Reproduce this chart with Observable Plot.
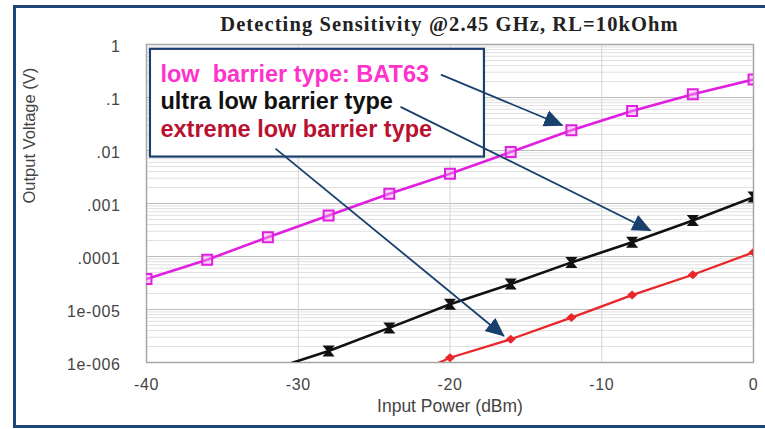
<!DOCTYPE html>
<html><head><meta charset="utf-8">
<script src="https://cdn.jsdelivr.net/npm/d3@7"></script>
<script src="https://cdn.jsdelivr.net/npm/@observablehq/plot@0.6"></script>
<style>
html,body{margin:0;padding:0;background:#fff;overflow:hidden;}
#wrap{position:relative;width:765px;height:429px;overflow:hidden;font-family:"Liberation Sans",Arial,sans-serif;}
#border{position:absolute;left:13px;top:5px;width:800px;height:417px;border:3px solid #1d4577;box-sizing:content-box;}
#chart{position:absolute;left:0;top:0;}
#title{position:absolute;left:146px;width:607px;top:13px;line-height:22px;text-align:center;font-weight:bold;font-size:20.5px;letter-spacing:1.1px;font-family:"Liberation Serif","Times New Roman",serif;color:#222;}
svg g[aria-label="y-axis tick label"] text, svg g[aria-label="x-axis tick label"] text {letter-spacing:0.6px;}
svg g[aria-label="axis-title"] text {letter-spacing:0.8px;}
</style></head>
<body><div id="wrap"><div id="border"></div><div id="chart"></div><div id="title">Detecting Sensitivity @2.45 GHz, RL=10kOhm</div></div>
<script>
// ---- data ----
const powerBAT63 = [-40, -36, -32, -28, -24, -20, -16, -12, -8, -4, 0];
const voltBAT63 = [3.76e-5, 8.7e-5, 2.30e-4, 5.93e-4, 1.53e-3, 3.65e-3, 9.35e-3, 0.0241, 0.0558, 0.1156, 0.219];
const powerUltra = [-32, -28, -24, -20, -16, -12, -8, -4, 0];
const voltUltra = [7e-7, 1.65e-6, 4.5e-6, 1.26e-5, 3.02e-5, 7.74e-5, 1.85e-4, 4.76e-4, 1.32e-3];
const powerExtreme = [-24, -20, -16, -12, -8, -4, 0];
const voltExtreme = [3.7e-7, 1.23e-6, 2.75e-6, 7.05e-6, 1.87e-5, 4.53e-5, 1.20e-4];
const seriesNames = ["low  barrier type: BAT63", "ultra low barrier type", "extreme low barrier type"];
const yTicks = [1, 0.1, 0.01, 0.001, 0.0001, 1e-5, 1e-6];
const yTickLabels = ["1", ".1", ".01", ".001", ".0001", "1e-005", "1e-006"];
const xTicks = [-40, -30, -20, -10, 0];
const xGrid = [-30, -20, -10];
const xTitle = "Input Power (dBm)";
const yTitle = "Output Voltage (V)";
// annotation (data coordinates)
const legendBox = [{x1: -39.74, x2: -17.73, y1: 0.811, y2: 0.00752}];
const legendTextX = [-39.08, -39.08, -39.08];
const legendTextY = [0.1977, 0.0601, 0.01798];
const arrowStartX = [-20.6, -23.26, -31.5];
const arrowStartY = [0.27, 0.0665, 0.01084];
const arrowEndX = [-12.6, -6.79, -16.45];
const arrowEndY = [0.0299, 3.09e-4, 3.17e-6];

const colors = {bat: "#e01fe0", ultra: "#111111", extreme: "#e8262b"};
const textColors = ["#ff33cc", "#111111", "#b81230"];

// minor log grid positions
const minorGrid = [];
for (let k = -6; k < 0; k++) for (let m = 2; m <= 9; m++) minorGrid.push(m * Math.pow(10, k));

const rows = (s, xs, ys) => xs.map((x, i) => ({series: s, power: x, volt: ys[i]}));
const dBAT = rows(seriesNames[0], powerBAT63, voltBAT63);
const dUltra = rows(seriesNames[1], powerUltra, voltUltra);
const dExt = rows(seriesNames[2], powerExtreme, voltExtreme);
const legendRows = seriesNames.map((t, i) => ({text: t, x: legendTextX[i], y: legendTextY[i]}));
const arrowRows = arrowStartX.map((x, i) => ({x1: x, y1: arrowStartY[i], x2: arrowEndX[i], y2: arrowEndY[i]}));

const hourglass = {draw(ctx, size) {
  const r = Math.sqrt(size / Math.PI);
  const w = r * 1.1, h = r, n = r * 0.3;
  ctx.moveTo(-w, -h); ctx.lineTo(w, -h); ctx.lineTo(n, 0); ctx.lineTo(w, h);
  ctx.lineTo(-w, h); ctx.lineTo(-n, 0); ctx.closePath();
}};
const diamond = {draw(ctx, size) {
  const r = Math.sqrt(size / Math.PI);
  ctx.moveTo(0, -r * 0.9); ctx.lineTo(r, 0); ctx.lineTo(0, r * 0.9); ctx.lineTo(-r, 0); ctx.closePath();
}};
function triangleMarker(color, context) {
  const doc = (context && context.document) || document;
  const m = doc.createElementNS("http://www.w3.org/2000/svg", "marker");
  m.setAttribute("viewBox", "-18 -9 20 18");
  m.setAttribute("markerWidth", "20");
  m.setAttribute("markerHeight", "18");
  m.setAttribute("markerUnits", "userSpaceOnUse");
  m.setAttribute("orient", "auto");
  const p = doc.createElementNS("http://www.w3.org/2000/svg", "path");
  p.setAttribute("d", "M-18,-8.5L1,0L-18,8.5Z");
  p.setAttribute("fill", color);
  p.setAttribute("stroke", "none");
  m.appendChild(p);
  return m;
}

const font = "'Liberation Sans', Arial, sans-serif";
const chart = Plot.plot({
  width: 765, height: 429,
  marginLeft: 146, marginRight: 12, marginTop: 44, marginBottom: 67,
  style: {background: "transparent", fontFamily: font},
  x: {domain: [-40, 0]},
  y: {type: "log", domain: [1e-6, 1]},
  marks: [
    Plot.ruleY(minorGrid, {stroke: "#e0e0e0", strokeWidth: 1}),
    Plot.ruleY(yTicks, {stroke: "#bdbdbd", strokeWidth: 1.2}),
    Plot.ruleX(xGrid, {stroke: "#d4d4d4", strokeWidth: 1}),
    Plot.frame({stroke: "#a6a6a6", strokeWidth: 1.5}),
    Plot.axisY({ticks: yTicks, tickFormat: (d) => yTickLabels[yTicks.indexOf(d)], tickSize: 0, tickPadding: 26, dy: 2,
      fontSize: 16, color: "#444", label: null}),
    Plot.axisX({ticks: xTicks, tickFormat: (d) => String(d), tickSize: 0, tickPadding: 16,
      fontSize: 16, color: "#444", label: null}),
    Plot.text([xTitle], {frameAnchor: "bottom", dy: 49, fontSize: 17.5, fill: "#444", ariaLabel: "axis-title"}),
    Plot.text([yTitle], {frameAnchor: "left", dx: -117, rotate: -90, fontSize: 16.5, fill: "#444", ariaLabel: "axis-title"}),
    Plot.line(dBAT, {x: "power", y: "volt", stroke: colors.bat, strokeWidth: 2.6, clip: true}),
    Plot.line(dUltra, {x: "power", y: "volt", stroke: colors.ultra, strokeWidth: 2.6, clip: true}),
    Plot.line(dExt, {x: "power", y: "volt", stroke: colors.extreme, strokeWidth: 2.3, clip: true}),
    Plot.dot(dBAT, {x: "power", y: "volt", symbol: "square", r: 5.6, stroke: colors.bat, strokeWidth: 2, fill: "#f7a6f3", fillOpacity: 0.45, clip: true}),
    Plot.dot(dUltra, {x: "power", y: "volt", symbol: hourglass, r: 5.5, fill: colors.ultra, stroke: "none", clip: true}),
    Plot.dot(dExt, {x: "power", y: "volt", symbol: diamond, r: 5, fill: colors.extreme, stroke: "none", clip: true}),
    Plot.rect(legendBox, {x1: "x1", x2: "x2", y1: "y1", y2: "y2", fill: "white", stroke: "#1d3f6e", strokeWidth: 2.2}),
    ...legendRows.map((r, i) => Plot.text([r], {x: "x", y: "y", text: "text", fill: textColors[i], textAnchor: "start",
      lineAnchor: "bottom", fontSize: 23.5, fontWeight: "bold", fontFamily: font})),
    Plot.link(arrowRows, {x1: "x1", y1: "y1", x2: "x2", y2: "y2", stroke: "#17406d", strokeWidth: 1.8, markerEnd: triangleMarker})
  ]
});
document.getElementById("chart").appendChild(chart);
</script>
</body></html>
